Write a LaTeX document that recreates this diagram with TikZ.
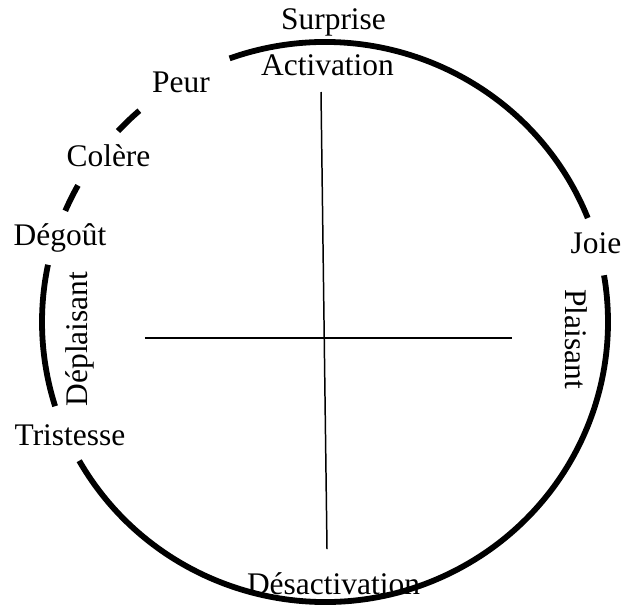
\documentclass[tikz,border=0pt]{standalone}
\usepackage{fontspec}
\setmainfont{Liberation Serif}
\usetikzlibrary{positioning}

\begin{document}
\begin{tikzpicture}[
    rim/.style={line width=3.3pt},
    axe/.style={line width=0.85pt},
    lbl/.style={font=\fontsize{17.9}{21}\selectfont, inner sep=0pt, anchor=base}
]
    \useasboundingbox (-6.5,-5.7) rectangle (6.04,6.44);

    % 1. Cercle (interrompu par les étiquettes)
    \draw[rim] (21.8:5.66 and 5.6) arc[start angle=21.8, end angle=109.7, x radius=5.66, y radius=5.6];
    \draw[rim] (131:5.66 and 5.6) arc[start angle=131, end angle=137, x radius=5.66, y radius=5.6];
    \draw[rim] (150.8:5.66 and 5.6) arc[start angle=150.8, end angle=156.6, x radius=5.66, y radius=5.6];
    \draw[rim] (168.2:5.66 and 5.6) arc[start angle=168.2, end angle=197.5, x radius=5.66, y radius=5.6];
    \draw[rim] (209.7:5.66 and 5.6) arc[start angle=209.7, end angle=369.6, x radius=5.66, y radius=5.6];

    % 2. Axes
    \coordinate (haut) at (-0.08,4.60);
    \coordinate (bas) at (0.04,-4.54);
    \coordinate (gauche) at (-3.60,-0.32);
    \coordinate (droite) at (3.74,-0.32);
    \draw[axe] (haut) -- (bas);
    \draw[axe] (gauche) -- (droite);

    % 3. Axes : étiquettes
    \node[lbl] (activ) at (0.05,4.94) {Activation};
    \node[lbl] (desactiv) at (0.17,-5.44) {Désactivation};
    \node[lbl, rotate=-90] (plais) at (4.80,-0.34) {Plaisant};
    \node[lbl, rotate=90] (deplais) at (-4.74,-0.34) {Déplaisant};

    % 4. Émotions
    \node[lbl] (surprise) at (0.17,5.86) {Surprise};
    \node[lbl] (peur) at (-2.88,4.60) {Peur};
    \node[lbl] (colere) at (-4.33,3.12) {Colère};
    \node[lbl] (degout) at (-5.30,1.54) {Dégoût};
    \node[lbl] (joie) at (5.42,1.38) {Joie};
    \node[lbl] (tristesse) at (-5.10,-2.46) {Tristesse};
\end{tikzpicture}
\end{document}
